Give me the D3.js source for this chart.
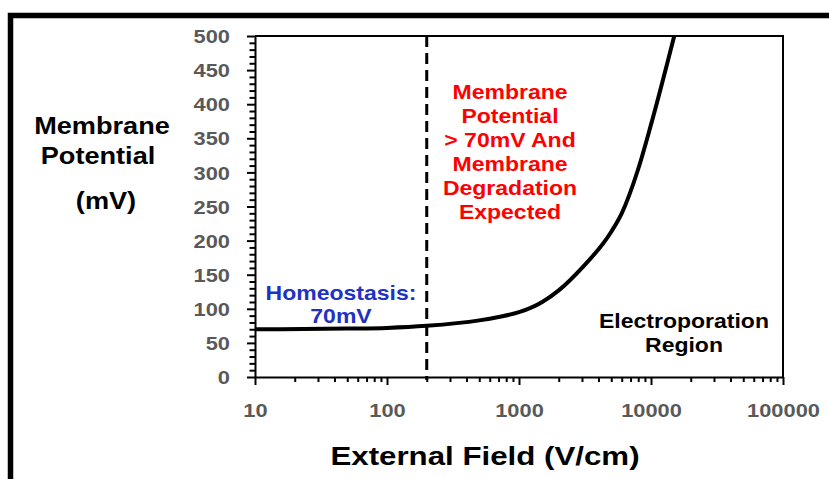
<!DOCTYPE html>
<html>
<head>
<meta charset="utf-8">
<script src="https://cdn.jsdelivr.net/npm/d3@7"></script>
<style>
  body { margin: 0; background: #fff; }
  svg { display: block; }
  text { font-family: "Liberation Sans", Arial, sans-serif; font-weight: bold; }
</style>
</head>
<body>
<div id="chart"></div>
<script>
// values
const field = [10, 50, 100, 200, 500, 700, 1000, 1500, 2000, 3000, 5000, 6000, 8000, 10000, 15000];
const potential = [70, 71, 72, 75, 83, 88, 95, 110, 127, 160, 213, 240, 305, 370, 500];
const xTicks = [10, 100, 1000, 10000, 100000];
const yTicks = [0, 50, 100, 150, 200, 250, 300, 350, 400, 450, 500];
const homeostasisField = 200;

const redLines = ["Membrane", "Potential", "> 70mV And", "Membrane", "Degradation", "Expected"];
const blueLines = ["Homeostasis:", "70mV"];
const blackLines = ["Electroporation", "Region"];
const yTitle = ["Membrane", "Potential", "(mV)"];
const xTitle = "External Field (V/cm)";

const width = 829, height = 479;
const sx = 1.18; // text in the picture is stretched wide

const svg = d3.select("#chart").append("svg")
  .attr("width", width)
  .attr("height", height);

// outer frame, only top and left show
svg.append("rect")
  .attr("x", 10.5).attr("y", 15.5)
  .attr("width", 1000).attr("height", 1000)
  .attr("fill", "none")
  .attr("stroke", "#000")
  .attr("stroke-width", 5.5);

const x = d3.scaleLog().domain([10, 100000]).range([255, 783]);
const y = d3.scaleLinear().domain([0, 500]).range([377, 36]);

function label(px, py, str, size, color) {
  svg.append("text")
    .attr("transform", `translate(${px},${py}) scale(${sx},1)`)
    .attr("text-anchor", "middle")
    .attr("font-size", size)
    .attr("fill", color)
    .text(str);
}

// minor ticks
const xMinor = [];
for (let d = 10; d < 100000; d *= 10)
  for (let k = 2; k <= 9; k++) xMinor.push(d * k);
const yMinor = d3.range(0, 501, 10).filter(v => v % 50 !== 0);

svg.append("g")
  .attr("transform", `translate(0,${y(0)})`)
  .call(d3.axisBottom(x).tickValues(xMinor).tickSize(5).tickFormat(""))
  .call(g => g.select(".domain").remove())
  .selectAll("line").attr("stroke-width", 2);

svg.append("g")
  .attr("transform", `translate(${x(10)},0)`)
  .call(d3.axisLeft(y).tickValues(yMinor).tickSize(5.5).tickFormat(""))
  .call(g => g.select(".domain").remove())
  .selectAll("line").attr("stroke-width", 2);

const xAxis = svg.append("g")
  .attr("transform", `translate(0,${y(0)})`)
  .call(d3.axisBottom(x).tickValues(xTicks).tickSize(8).tickSizeOuter(0).tickFormat(d3.format("d")));
xAxis.select(".domain").attr("stroke-width", 2);
xAxis.selectAll("line").attr("stroke-width", 2);
xAxis.selectAll("text")
  .attr("y", 0).attr("dy", 0)
  .attr("transform", `translate(0,40) scale(${sx},1)`)
  .attr("font-size", 18.5)
  .attr("font-family", "Liberation Sans, Arial, sans-serif")
  .attr("font-weight", "bold")
  .attr("fill", "#595959");

const yAxis = svg.append("g")
  .attr("transform", `translate(${x(10)},0)`)
  .call(d3.axisLeft(y).tickValues(yTicks).tickSize(8).tickSizeOuter(0));
yAxis.select(".domain").attr("stroke-width", 2);
yAxis.selectAll("line").attr("stroke-width", 2);
yAxis.selectAll("text")
  .attr("x", 0).attr("dy", 0)
  .attr("transform", `translate(-25,6.6) scale(${sx},1)`)
  .attr("font-size", 18.5)
  .attr("font-family", "Liberation Sans, Arial, sans-serif")
  .attr("font-weight", "bold")
  .attr("fill", "#595959");

// top and right frame of the plot
svg.append("path")
  .attr("d", `M${x(10)},${y(500)}H${x(100000)}V${y(0)}`)
  .attr("fill", "none")
  .attr("stroke", "#000")
  .attr("stroke-width", 2);

// homeostasis boundary
svg.append("line")
  .attr("x1", x(homeostasisField)).attr("x2", x(homeostasisField))
  .attr("y1", y(500)).attr("y2", y(0) + 3)
  .attr("stroke", "#000")
  .attr("stroke-width", 3)
  .attr("stroke-dasharray", "11,6");

// curve
const pts = field.map((f, i) => [f, potential[i]]);
svg.append("path")
  .datum(pts)
  .attr("fill", "none")
  .attr("stroke", "#000")
  .attr("stroke-width", 4)
  .attr("d", d3.line().x(d => x(d[0])).y(d => y(d[1])).curve(d3.curveMonotoneX));

// annotations
redLines.forEach((s, i) => label(510, 99 + i * 24, s, 19.5, "#ff0000"));
blueLines.forEach((s, i) => label(341, 300 + i * 23, s, 19.5, "#1f32c4"));
blackLines.forEach((s, i) => label(684, 328 + i * 24, s, 19.5, "#000"));

label(102, 134, yTitle[0], 23, "#000");
label(98, 164, yTitle[1], 23, "#000");
label(106, 209, yTitle[2], 23, "#000");
label(485, 465, xTitle, 26.5, "#000");
</script>
</body>
</html>
